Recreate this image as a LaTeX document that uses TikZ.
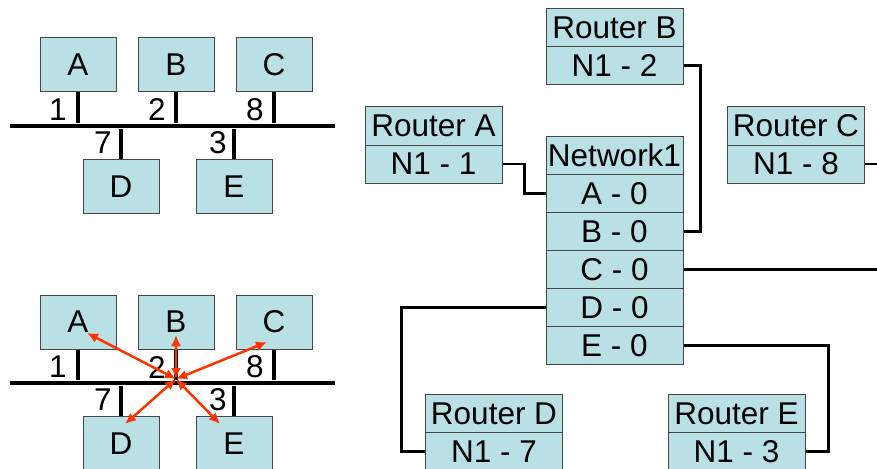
\documentclass[tikz,border=0pt]{standalone}
\usepackage{fontspec}
\setmainfont{Liberation Sans}
\usetikzlibrary{arrows.meta}
\definecolor{boxfill}{RGB}{185,224,228}
\definecolor{boxline}{RGB}{70,70,70}
\definecolor{arr}{RGB}{255,51,0}
\begin{document}
\begin{tikzpicture}
[x=1pt,y=-1pt,font=\fontsize{31.5}{33}\selectfont,
h/.style={rectangle,draw=boxline,fill=boxfill,line width=1pt,minimum width=76pt,minimum height=54pt,inner sep=0pt},
r/.style={rectangle,draw=boxline,fill=boxfill,line width=1pt,minimum width=137pt,minimum height=38pt,inner sep=0pt},
s/.style={line width=4pt},c/.style={line width=2.5pt},
m/.style={arr,line width=2.5pt,{Latex[length=11pt,width=10pt]}-{Latex[length=11pt,width=10pt]}}]
\useasboundingbox (0,0) rectangle (877,468);
% upper bus
\node(A1) at (78,65)[h]{A};\node(B1) at (176,65)[h]{B};\node(C1) at (274,65)[h]{C};
\node(D1) at (121,186.5)[h]{D};\node(E1) at (234,186.5)[h]{E};
\coordinate(bl1) at (10,126);\coordinate(br1) at (335,126);\draw[s](bl1)--(br1);
\draw[s](A1.south)--(A1.south|-0,123);\draw[s](B1.south)--(B1.south|-0,123);\draw[s](C1.south)--(C1.south|-0,123);
\draw[s](D1.north)--(D1.north|-0,129);\draw[s](E1.north)--(E1.north|-0,129);
\node(n11) at (58,110){1};\node(n21) at (157,110){2};\node(n81) at (255,110){8};
\node(n71) at (103,143){7};\node(n31) at (218,143){3};
% lower bus
\node(A2) at (78,322)[h]{A};\node(B2) at (176,322)[h]{B};\node(C2) at (274,322)[h]{C};
\node(D2) at (121,443.5)[h]{D};\node(E2) at (234,443.5)[h]{E};
\coordinate(bl2) at (10,383);\coordinate(br2) at (335,383);\draw[s](bl2)--(br2);
\draw[s](A2.south)--(A2.south|-0,380);\draw[s](B2.south)--(B2.south|-0,380);\draw[s](C2.south)--(C2.south|-0,380);
\draw[s](D2.north)--(D2.north|-0,386);\draw[s](E2.north)--(E2.north|-0,386);
\node(n12) at (58,367){1};\node(n22) at (157,367){2};\node(n82) at (255,367){8};
\node(n72) at (103,400){7};\node(n32) at (218,400){3};
\coordinate(hub) at (176,379);
\coordinate(pA) at (87,333);\coordinate(pB) at (176,335);\coordinate(pC) at (267,342);
\coordinate(pD) at (125,424);\coordinate(pE) at (220,424);
\draw[m](hub)--(pA);\draw[m](hub)--(pB);\draw[m](hub)--(pC);\draw[m](hub)--(pD);\draw[m](hub)--(pE);
% routers and network
\node(rB) at (614.5,27.5)[r]{Router B};\node(rB1) at (614.5,65.5)[r]{N1 - 2};
\node(rA) at (433.5,126)[r]{Router A};\node(rA1) at (433.5,164)[r]{N1 - 1};
\node(rC) at (796,126)[r]{Router C};\node(rC1) at (796,164)[r]{N1 - 8};
\node(nw) at (614.5,155.5)[r]{Network1};\node(nwA) at (614.5,193.5)[r]{A - 0};
\node(nwB) at (614.5,231.5)[r]{B - 0};\node(nwC) at (614.5,269.5)[r]{C - 0};
\node(nwD) at (614.5,307.5)[r]{D - 0};\node(nwE) at (614.5,345.5)[r]{E - 0};
\node(rD) at (494,413.5)[r]{Router D};\node(rD1) at (494,451.5)[r]{N1 - 7};
\node(rE) at (736.5,413.5)[r]{Router E};\node(rE1) at (736.5,451.5)[r]{N1 - 3};
\draw[c](rA1.east)--++(22,0)|-(nwA.west);\draw[c](rB1.east)--++(17,0)|-(nwB.east);
\draw[c](rC1.east)--++(30,0)|-(nwC.east);
\draw[c](nwD.west)--++(-144,0)|-(rD1.west);\draw[c](nwE.east)--++(145,0)|-(rE1.east);
\end{tikzpicture}
\end{document}
